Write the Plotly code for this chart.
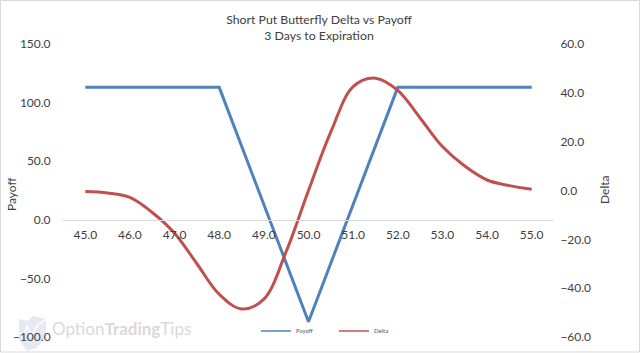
import plotly.graph_objects as go

strikes = [45.0, 45.5, 46.0, 46.5, 47.0, 47.5, 48.0, 48.5, 49.0, 49.5, 50.0,
           50.5, 51.0, 51.5, 52.0, 52.5, 53.0, 53.5, 54.0, 54.5, 55.0]
payoff = [113, 113, 113, 113, 113, 113, 113, 63, 13, -37, -87,
          -37, 13, 63, 113, 113, 113, 113, 113, 113, 113]
delta = [-0.4, -1, -2.8, -9, -17.5, -30, -42.5, -48.5, -44.5, -25, 0,
         24, 42.5, 46, 41, 29.7, 18, 10, 4.3, 2, 0.5]
x_ticks = [45, 46, 47, 48, 49, 50, 51, 52, 53, 54, 55]
title_lines = ["Short Put Butterfly Delta vs Payoff", "3 Days to Expiration"]

FONT = "Lato"
TXT = "#404040"
W, H = 640, 353
L, R, T, B = 63, 86, 44, 16
PW, PH = W - L - R, H - T - B


def px(x):
    return (x - L) / PW


def py(y):
    return (H - B - y) / PH


logo = [(19, 319), (28, 321), (33, 316), (46, 319), (46, 336), (37, 348), (27, 351), (19, 340)]
logo_path = "M " + " L ".join(f"{px(a):.4f} {py(b):.4f}" for a, b in logo) + " Z"
zigzag = [(19, 334), (24, 334), (27, 326), (31, 336), (37, 326), (46, 319)]
zigzag_path = "M " + " L ".join(f"{px(a):.4f} {py(b):.4f}" for a, b in zigzag)

fig = go.Figure()
fig.add_trace(go.Scatter(x=strikes, y=payoff, name="Payoff", mode="lines", showlegend=False,
                         line=dict(color="#4F81BD", width=3)))
fig.add_trace(go.Scatter(x=strikes, y=delta, name="Delta", mode="lines", yaxis="y2", showlegend=False,
                         line=dict(color="#C0504D", width=3, shape="spline", smoothing=1.0)))
fig.add_trace(go.Scatter(x=[None], y=[None], name="Payoff", mode="lines",
                         line=dict(color="#4F81BD", width=1.5)))
fig.add_trace(go.Scatter(x=[None], y=[None], name="Delta", mode="lines",
                         line=dict(color="#C0504D", width=1.5)))

fig.update_layout(
    width=W, height=H, autosize=False,
    margin=dict(l=L, r=R, t=T, b=B, autoexpand=False),
    paper_bgcolor="white", plot_bgcolor="white",
    font=dict(family=FONT, color=TXT, size=12),
    title=dict(text="<br>".join(title_lines), x=px(319), xref="paper", xanchor="center",
               y=0.931, yanchor="top", font=dict(family=FONT, size=12.3, color=TXT)),
    xaxis=dict(range=[44.5, 55.5], tickvals=x_ticks, ticktext=[f"{v:.1f}" for v in x_ticks],
               anchor="free", position=0.4, showgrid=False, showline=True, linecolor="#D9D9D9",
               linewidth=1, ticks="outside", ticklen=4, tickcolor="rgba(0,0,0,0)", zeroline=False,
               automargin=False, tickfont=dict(size=12, color=TXT)),
    yaxis=dict(range=[-100, 150], dtick=50, tickformat=".1f", showgrid=False, zeroline=False,
               ticks="outside", ticklen=9, tickcolor="rgba(0,0,0,0)", showline=False, automargin=False),
    yaxis2=dict(range=[-60, 60], dtick=20, tickformat=".1f", overlaying="y", side="right",
                showgrid=False, zeroline=False, showline=False, automargin=False,
                ticks="outside", ticklen=3, tickcolor="rgba(0,0,0,0)"),
    legend=dict(orientation="h", x=px(256), xanchor="left", y=py(331), yanchor="middle",
                font=dict(size=6, color="#595959"), itemwidth=30, entrywidth=33,
                bgcolor="rgba(0,0,0,0)"),
    shapes=[
        dict(type="rect", xref="paper", yref="paper", x0=px(0.5), x1=px(639.5), y0=py(352), y1=py(0.5),
             line=dict(color="#D9D9D9", width=1), layer="below"),
        dict(type="path", xref="paper", yref="paper", layer="below", path=logo_path,
             fillcolor="#E6E8F2", line=dict(width=0)),
        dict(type="path", xref="paper", yref="paper", layer="below", path=zigzag_path,
             line=dict(color="white", width=1.5)),
    ],
    annotations=[
        dict(text="Option<b>Trading</b>Tips", xref="paper", yref="paper", x=px(50), y=py(328),
             xanchor="left", yanchor="middle", showarrow=False,
             font=dict(family=FONT, size=17, color="#D9D9D9")),
        dict(text="Payoff", xref="paper", yref="paper", x=px(11), y=py(194), textangle=-90,
             xanchor="center", yanchor="middle", showarrow=False, font=dict(size=12, color=TXT)),
        dict(text="Delta", xref="paper", yref="paper", x=px(604), y=py(190), textangle=-90,
             xanchor="center", yanchor="middle", showarrow=False, font=dict(size=12, color=TXT)),
    ],
)

fig.write_html("out.html", config={"displayModeBar": False},
               post_script="document.body.style.margin='0';document.body.style.overflow='hidden';")
